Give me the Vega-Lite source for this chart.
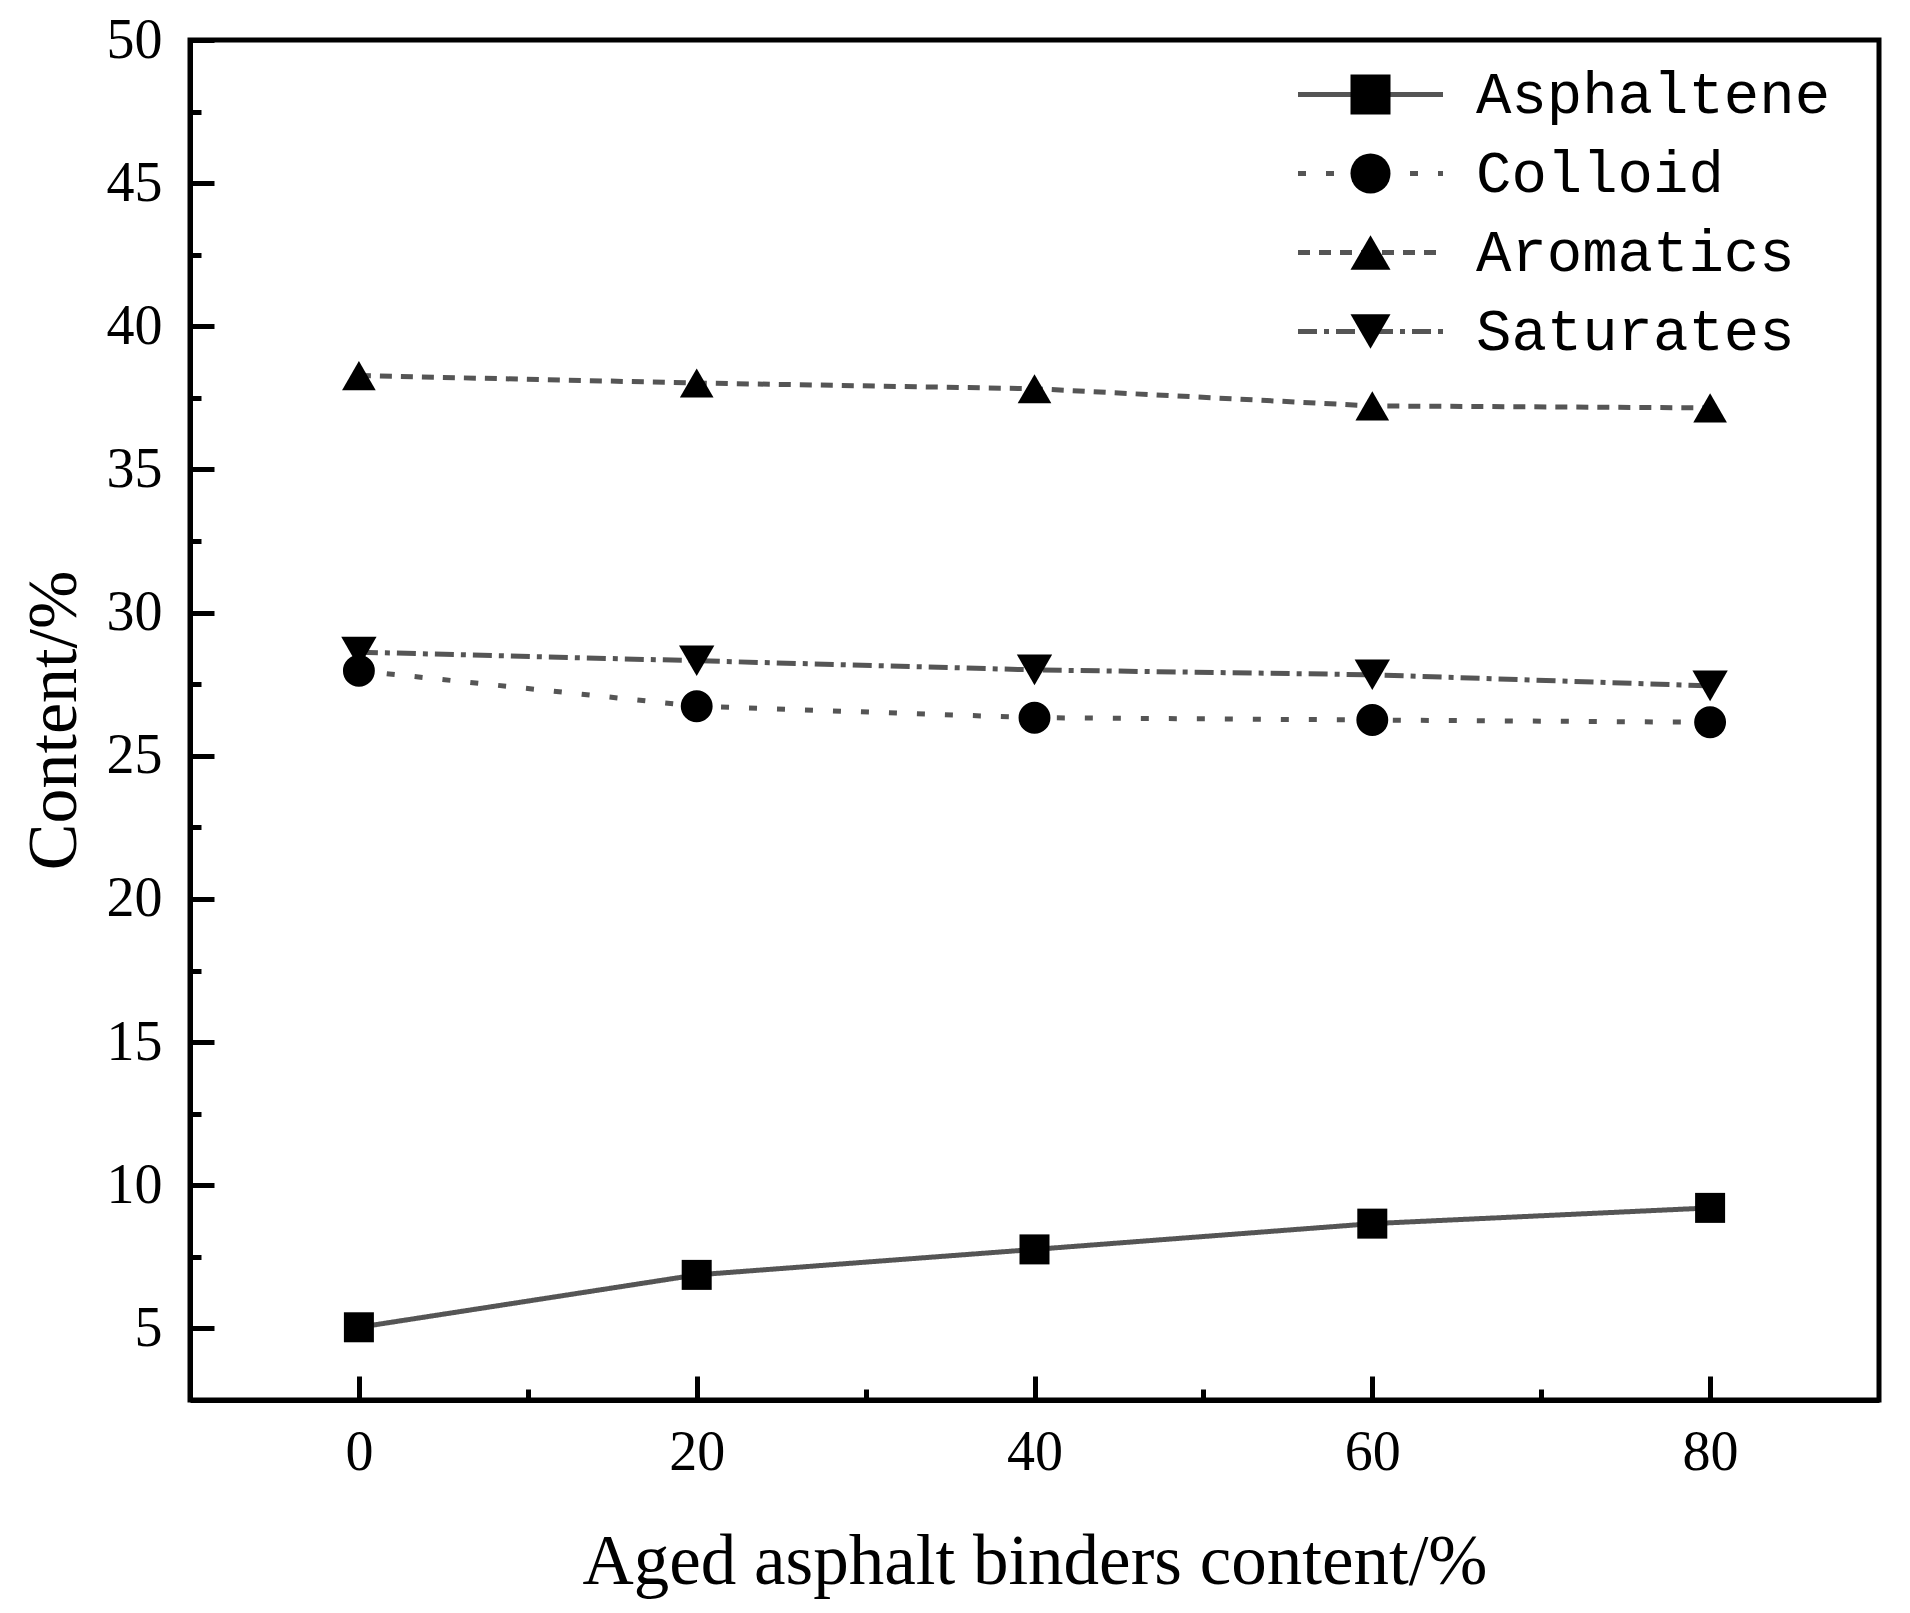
{
  "$schema": "https://vega.github.io/schema/vega-lite/v6.json",
  "autosize": {"type": "none"},
  "padding": {"left": 190, "top": 40, "right": 31, "bottom": 213},
  "width": 1689,
  "height": 1360,
  "background": "white",
  "config": {
    "view": {"stroke": "black", "strokeWidth": 5},
    "axis": {
      "domainColor": "black",
      "domainWidth": 5,
      "tickColor": "black",
      "tickWidth": 5,
      "grid": false,
      "labelFont": "Liberation Serif",
      "labelFontSize": 56,
      "labelColor": "black",
      "titleFont": "Liberation Serif",
      "titleFontWeight": "normal",
      "titleColor": "black",
      "labelFlush": false,
      "labelOverlap": false
    },
    "legend": {
      "labelFont": "Liberation Mono",
      "labelFontSize": 59,
      "labelColor": "black",
      "labelLimit": 0,
      "padding": 0,
      "rowPadding": 19
    }
  },
  "data": {
    "values": [
      {"x": 0, "series": "Asphaltene", "value": 5.04},
      {"x": 20, "series": "Asphaltene", "value": 6.87},
      {"x": 40, "series": "Asphaltene", "value": 7.76},
      {"x": 60, "series": "Asphaltene", "value": 8.66},
      {"x": 80, "series": "Asphaltene", "value": 9.21},
      {"x": 0, "series": "Colloid", "value": 27.97},
      {"x": 20, "series": "Colloid", "value": 26.73},
      {"x": 40, "series": "Colloid", "value": 26.33},
      {"x": 60, "series": "Colloid", "value": 26.25},
      {"x": 80, "series": "Colloid", "value": 26.17},
      {"x": 0, "series": "Aromatics", "value": 38.28},
      {"x": 20, "series": "Aromatics", "value": 38.02},
      {"x": 40, "series": "Aromatics", "value": 37.82},
      {"x": 60, "series": "Aromatics", "value": 37.22},
      {"x": 80, "series": "Aromatics", "value": 37.15},
      {"x": 0, "series": "Saturates", "value": 28.62},
      {"x": 20, "series": "Saturates", "value": 28.32},
      {"x": 40, "series": "Saturates", "value": 28.0},
      {"x": 60, "series": "Saturates", "value": 27.83},
      {"x": 80, "series": "Saturates", "value": 27.44}
    ]
  },
  "encoding": {
    "x": {
      "field": "x",
      "type": "quantitative",
      "scale": {"domain": [-10, 90], "nice": false, "zero": false},
      "axis": {
        "title": "Aged asphalt binders content/%",
        "titleFontSize": 71,
        "titleBaseline": "alphabetic",
        "titleY": 183,
        "values": [0, 10, 20, 30, 40, 50, 60, 70, 80],
        "labelExpr": "datum.value % 20 == 0 ? datum.label : ''",
        "tickSize": {"condition": {"test": "datum.value % 20 != 0", "value": -11}, "value": -24},
        "labelBaseline": "alphabetic",
        "labelPadding": 93
      }
    },
    "y": {
      "field": "value",
      "type": "quantitative",
      "scale": {"domain": [2.5, 50], "nice": false, "zero": false},
      "axis": {
        "title": "Content/%",
        "titleFontSize": 70,
        "titleBaseline": "alphabetic",
        "titleX": -115,
        "titleY": 680,
        "values": [5, 7.5, 10, 12.5, 15, 17.5, 20, 22.5, 25, 27.5, 30, 32.5, 35, 37.5, 40, 42.5, 45, 47.5, 50],
        "labelExpr": "datum.value % 5 == 0 ? datum.label : ''",
        "tickSize": {"condition": {"test": "datum.value % 5 != 0", "value": -11}, "value": -24},
        "labelPadding": 52
      }
    }
  },
  "layer": [
    {
      "mark": {"type": "line", "color": "#555555", "strokeWidth": 5, "strokeCap": "butt"},
      "encoding": {
        "strokeDash": {
          "field": "series",
          "type": "nominal",
          "scale": {
            "domain": ["Asphaltene", "Colloid", "Aromatics", "Saturates"],
            "range": [[1, 0], [8, 20], [12, 9], [19, 7, 5, 7]]
          },
          "legend": {
            "title": null,
            "orient": "none",
            "legendX": 1151,
            "legendY": 25,
            "symbolType": "M-4,0L4,0",
            "symbolSize": 1314,
            "symbolStrokeWidth": 5,
            "symbolStrokeColor": "#555555",
            "symbolFillColor": "transparent",
            "labelOffset": 76
          }
        }
      }
    },
    {
      "mark": {"type": "point", "filled": true, "color": "black", "opacity": 1, "strokeWidth": 0},
      "encoding": {
        "shape": {
          "field": "series",
          "type": "nominal",
          "sort": ["Asphaltene", "Colloid", "Aromatics", "Saturates"],
          "scale": {
            "range": ["square", "circle", "triangle-up", "triangle-down"]
          },
          "legend": {
            "title": null,
            "orient": "none",
            "legendX": 1151,
            "legendY": 25,
            "labelExpr": "''",
            "labelOffset": 34,
            "symbolSize": 1600,
            "symbolFillColor": "black",
            "symbolStrokeWidth": 0
          }
        },
        "size": {
          "field": "series",
          "type": "nominal",
          "sort": ["Asphaltene", "Colloid", "Aromatics", "Saturates"],
          "scale": {
            "range": [900, 1250, 2700, 2700]
          },
          "legend": null
        }
      }
    }
  ]
}
